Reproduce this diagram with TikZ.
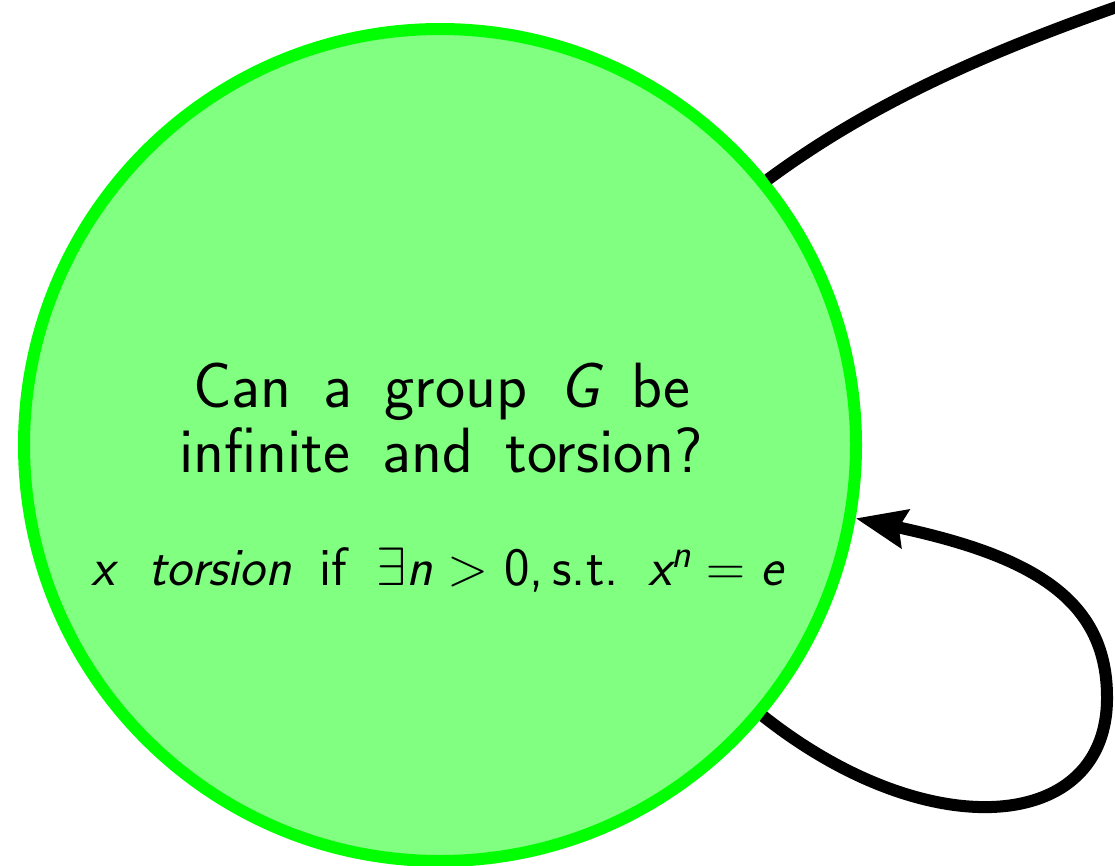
\documentclass[tikz,border=0pt]{standalone}
\usepackage{fix-cm}
\usepackage{fontspec}
\usetikzlibrary{arrows.meta}
\definecolor{fillgreen}{RGB}{128,255,128}
\definecolor{bordergreen}{RGB}{0,255,0}
\newfontfamily\sansbig{lmsans17-regular.otf}[ItalicFont=lmsans17-oblique.otf]
\newcommand\titlefont{\fontsize{64}{65}\selectfont\sansbig}
\newcommand\formulafont{\fontsize{54}{56}\selectfont\sffamily}
\newcommand\supfont{\fontsize{40}{40}\selectfont\itshape}
\newcommand\widespacing{\spaceskip=0.5em\relax}
\begin{document}
\begin{tikzpicture}[x=1pt,y=-1pt,
  state/.style={circle, draw=bordergreen, fill=fillgreen, line width=12pt, minimum size=832pt, inner sep=0pt},
  title/.style={font=\titlefont, anchor=base, inner sep=0pt},
  formula/.style={font=\formulafont, anchor=base, inner sep=0pt},
  edge/.style={line width=12pt, draw=black},
  tip/.style={-{Stealth[length=50pt,width=38pt,inset=6pt]}}]
\useasboundingbox (0,0) rectangle (1115,865);
\node[state] (q) at (440,445) {};
\node[title] (l1) at (442,407) {\widespacing Can a group {\itshape G} be};
\node[title] (l2) at (441,472) {\widespacing infinite and torsion?};
\node[formula] (l3) at (437,585) {{\itshape x}\hspace{34pt}{\itshape torsion}\hspace{28pt}if\hspace{30pt}$\exists${\itshape n}$\;>\;$0,\,s.t.\hspace{30pt}{\itshape x}\raisebox{18pt}{\supfont n}$\;=\;${\itshape e}};
\coordinate (far) at (1128,3);
\coordinate (loopR) at (1107,697);
\draw[edge] (q.39.4) .. controls (865,108) and (975,56) .. (far);
\draw[edge,tip] (q.-40.7) .. controls (930,848) and (1108,832) .. (loopR)
  .. controls (1107,597) and (1028,555) .. (q.-10.3);
\end{tikzpicture}
\end{document}
